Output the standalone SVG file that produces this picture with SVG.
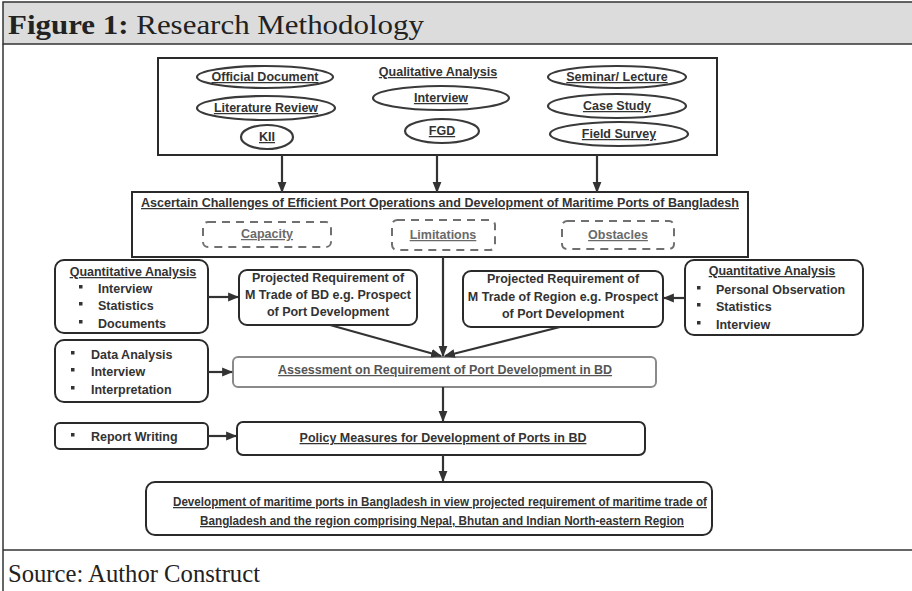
<svg xmlns="http://www.w3.org/2000/svg" width="912" height="591" viewBox="0 0 912 591">
<defs>
<marker id="ah" viewBox="0 0 10 10" refX="9" refY="5" markerWidth="5" markerHeight="5" orient="auto-start-reverse" markerUnits="strokeWidth">
<path d="M0,1 L10,5 L0,9 Z" fill="#333"/>
</marker>
<style>
.t{font-family:"Liberation Sans",Arial,sans-serif;font-weight:bold;font-size:12.5px;fill:#333;}
.c{text-anchor:middle;}
.u{text-decoration:underline;}
.g{fill:#6a6a6a;}
.ell{fill:#fff;stroke:#3a3a3a;stroke-width:2.2;}
.box{fill:#fff;stroke:#2a2a2a;stroke-width:2;}
.dash{fill:none;stroke:#707070;stroke-width:2;stroke-dasharray:8,6;}
.con{fill:none;stroke:#333;stroke-width:2.2;}
.arr{fill:none;stroke:#333;stroke-width:2.2;marker-end:url(#ah);}
.bul{fill:#333;}
.serif{font-family:"Liberation Serif","Times New Roman",serif;fill:#222;}
</style>
</defs>
<rect width="912" height="591" fill="#fff"/>
<!-- frame -->
<rect x="3" y="2" width="920" height="42" fill="#dcdcdc" stroke="#333" stroke-width="1.5"/>
<line x1="3" y1="44" x2="3" y2="591" stroke="#333" stroke-width="1.5"/>
<line x1="3" y1="550" x2="912" y2="550" stroke="#333" stroke-width="1.5"/>
<text class="serif" x="8" y="34" font-size="28" textLength="416" lengthAdjust="spacingAndGlyphs"><tspan font-weight="bold">Figure 1:</tspan> Research Methodology</text>
<text class="serif" x="8" y="582" font-size="26" textLength="252" lengthAdjust="spacingAndGlyphs">Source: Author Construct</text>

<g id="qualitative">
<rect class="box" x="158" y="58" width="559" height="97"/>
<text class="t c u" x="438" y="76">Qualitative Analysis</text>
<ellipse class="ell" cx="265" cy="77" rx="68" ry="11"/>
<text class="t c u" x="265" y="81">Official Document</text>
<ellipse class="ell" cx="266" cy="108" rx="69" ry="12"/>
<text class="t c u" x="266" y="112">Literature Review</text>
<ellipse class="ell" cx="267" cy="137" rx="26" ry="12"/>
<text class="t c u" x="267" y="141">KII</text>
<ellipse class="ell" cx="441" cy="98" rx="68" ry="12"/>
<text class="t c u" x="441" y="102">Interview</text>
<ellipse class="ell" cx="442" cy="131" rx="37" ry="12"/>
<text class="t c u" x="442" y="135">FGD</text>
<ellipse class="ell" cx="617" cy="77" rx="69" ry="11"/>
<text class="t c u" x="617" y="81">Seminar/ Lecture</text>
<ellipse class="ell" cx="617" cy="106" rx="69" ry="12"/>
<text class="t c u" x="617" y="110">Case Study</text>
<ellipse class="ell" cx="619" cy="134" rx="69" ry="12"/>
<text class="t c u" x="619" y="138">Field Survey</text>
</g>

<g id="ascertain">
<rect class="box" x="132" y="192" width="616" height="65"/>
<text class="t c u" x="440" y="207" textLength="598" lengthAdjust="spacingAndGlyphs">Ascertain Challenges of Efficient Port Operations and Development of Maritime Ports of Bangladesh</text>
<rect class="dash" x="203" y="222" width="128" height="25" rx="5"/>
<text class="t c u g" x="267" y="238">Capacity</text>
<rect class="dash" x="392" y="220" width="103" height="30" rx="5"/>
<text class="t c u g" x="443" y="239">Limitations</text>
<rect class="dash" x="562" y="221" width="112" height="28" rx="5"/>
<text class="t c u g" x="618" y="239">Obstacles</text>
</g>

<g id="quant-left">
<rect class="box" x="55" y="260" width="153" height="73" rx="9"/>
<text class="t c u" x="133" y="276">Quantitative Analysis</text>
<rect class="bul" x="79" y="285" width="3.5" height="3.5"/>
<text class="t" x="98" y="293">Interview</text>
<rect class="bul" x="79" y="302" width="3.5" height="3.5"/>
<text class="t" x="98" y="310">Statistics</text>
<rect class="bul" x="79" y="320" width="3.5" height="3.5"/>
<text class="t" x="98" y="328">Documents</text>
</g>

<g id="proj-bd">
<rect class="box" x="239" y="270" width="178" height="55" rx="8"/>
<text class="t c" x="328" y="282">Projected Requirement of</text>
<text class="t c" x="328" y="299">M Trade of BD e.g. Prospect</text>
<text class="t c" x="328" y="316">of Port Development</text>
</g>

<g id="proj-region">
<rect class="box" x="463" y="271" width="200" height="56" rx="8"/>
<text class="t c" x="563" y="283">Projected Requirement of</text>
<text class="t c" x="563" y="301">M Trade of Region e.g. Prospect</text>
<text class="t c" x="563" y="318">of Port Development</text>
</g>

<g id="quant-right">
<rect class="box" x="685" y="260" width="178" height="75" rx="9"/>
<text class="t c u" x="772" y="275">Quantitative Analysis</text>
<rect class="bul" x="697" y="286" width="3.5" height="3.5"/>
<text class="t" x="716" y="294">Personal Observation</text>
<rect class="bul" x="697" y="303" width="3.5" height="3.5"/>
<text class="t" x="716" y="311">Statistics</text>
<rect class="bul" x="697" y="321" width="3.5" height="3.5"/>
<text class="t" x="716" y="329">Interview</text>
</g>

<g id="data-analysis">
<rect class="box" x="55" y="340" width="153" height="62" rx="9"/>
<rect class="bul" x="71" y="351" width="3.5" height="3.5"/>
<text class="t" x="91" y="359">Data Analysis</text>
<rect class="bul" x="71" y="368" width="3.5" height="3.5"/>
<text class="t" x="91" y="376">Interview</text>
<rect class="bul" x="71" y="386" width="3.5" height="3.5"/>
<text class="t" x="91" y="394">Interpretation</text>
</g>

<g id="assessment">
<rect x="233" y="357" width="423" height="30" rx="5" fill="#fff" stroke="#8a8a8a" stroke-width="2"/>
<text class="t c u" x="445" y="374" style="fill:#555">Assessment on Requirement of Port Development in BD</text>
</g>

<g id="report">
<rect class="box" x="55" y="423" width="153" height="26" rx="5"/>
<rect class="bul" x="71" y="433" width="3.5" height="3.5"/>
<text class="t" x="91" y="441">Report Writing</text>
</g>

<g id="policy">
<rect class="box" x="237" y="422" width="408" height="33" rx="6"/>
<text class="t c u" x="443" y="442">Policy Measures for Development of Ports in BD</text>
</g>

<g id="final">
<rect class="box" x="146" y="482" width="566" height="53" rx="9"/>
<text class="t c u" x="440" y="506" textLength="534" lengthAdjust="spacingAndGlyphs">Development of maritime ports in Bangladesh in view projected requirement of maritime trade of</text>
<text class="t c u" x="442" y="525" textLength="484" lengthAdjust="spacingAndGlyphs">Bangladesh and the region comprising Nepal, Bhutan and Indian North-eastern Region</text>
</g>

<g id="connectors">
<line class="arr" x1="282" y1="155" x2="282" y2="192"/>
<line class="arr" x1="437" y1="155" x2="437" y2="192"/>
<line class="arr" x1="597" y1="155" x2="597" y2="192"/>
<line class="arr" x1="208" y1="297" x2="238" y2="297"/>
<line class="arr" x1="685" y1="298" x2="664" y2="298"/>
<line class="arr" x1="443" y1="257" x2="443" y2="356"/>
<line class="arr" x1="330" y1="325" x2="441" y2="356"/>
<line class="arr" x1="560" y1="327" x2="445" y2="356"/>
<line class="arr" x1="208" y1="372" x2="232" y2="372"/>
<line class="arr" x1="443" y1="387" x2="443" y2="421"/>
<line class="arr" x1="208" y1="436" x2="236" y2="436"/>
<line class="arr" x1="443" y1="455" x2="443" y2="481"/>
</g>
</svg>
